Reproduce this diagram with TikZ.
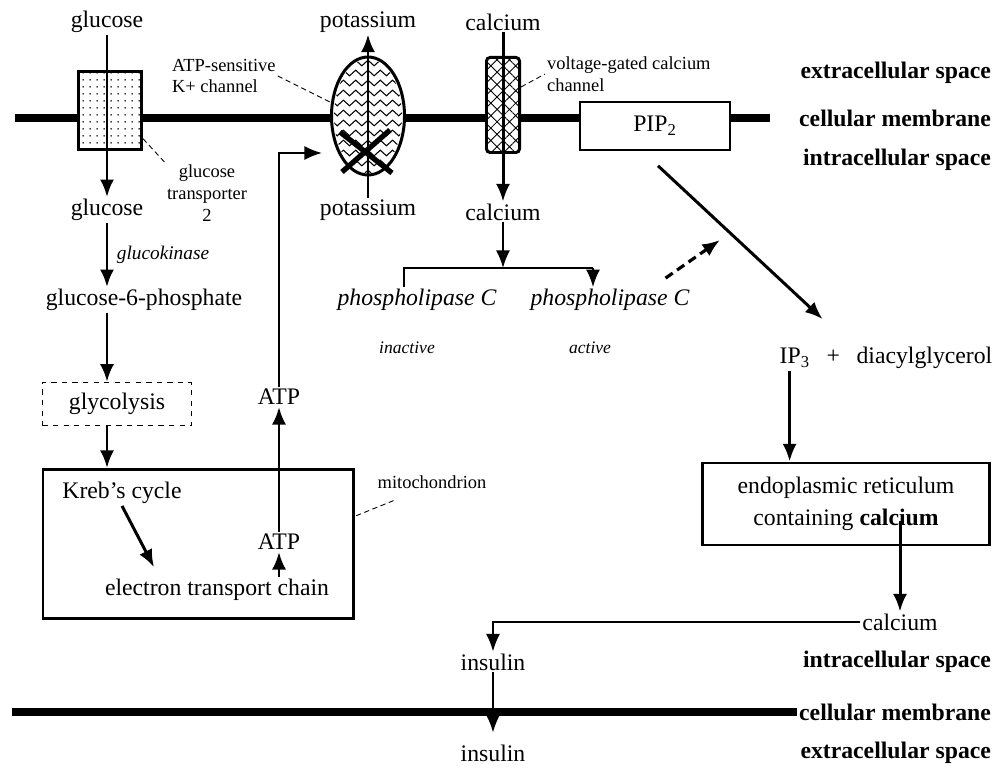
\documentclass[tikz,border=0pt]{standalone}
\usepackage{fontspec}
\setmainfont{Liberation Serif}
\usetikzlibrary{arrows.meta,patterns.meta,decorations.pathmorphing,shapes.geometric}

\tikzset{
  lbl/.style={font=\fontsize{13.5}{16}\selectfont, inner sep=1pt},
  note/.style={font=\fontsize{10.5}{12.5}\selectfont, inner sep=1pt, align=left},
  enz/.style={font=\fontsize{11}{13}\selectfont\itshape, inner sep=1pt},
  state/.style={font=\fontsize{10}{12}\selectfont\itshape, inner sep=1pt},
  plc/.style={font=\fontsize{13.5}{16}\selectfont\itshape, inner sep=1pt},
  side/.style={font=\fontsize{13.5}{16}\selectfont\bfseries, anchor=east, inner sep=1pt},
  arr/.style={line width=1.7pt, -{Latex[length=10pt,width=8pt]}},
  thinarr/.style={line width=1.1pt, -{Latex[length=10pt,width=8pt]}},
  dasharr/.style={line width=1.8pt, dash pattern=on 5pt off 3pt, -{Latex[length=10pt,width=8pt]}},
  bracket/.style={line width=1.1pt},
  membrane/.style={line width=5pt},
  leader/.style={densely dashed, line width=0.5pt},
  cross/.style={line width=3pt},
  wave/.style={decorate, decoration={zigzag, segment length=7pt, amplitude=1.6pt}, line width=0.6pt},
  gtbox/.style={draw, line width=1.7pt, fill=white, minimum width=12.6mm, minimum height=15.6mm,
    postaction={pattern={Dots[distance=4pt,radius=0.5pt]}}},
  kchan/.style={ellipse, draw, line width=1.7pt, fill=white, minimum width=14.6mm,
    minimum height=23.6mm, inner sep=0pt},
  cachan/.style={draw, rounded corners=2pt, line width=1.7pt, fill=white, minimum width=6.6mm,
    minimum height=19mm, inner sep=0pt, postaction={pattern={Hatch[angle=45,distance=5pt,line width=0.5pt]}}},
  pipbox/.style={draw, line width=0.9pt, fill=white, minimum width=30mm, minimum height=9.6mm},
  dbox/.style={draw, dashed, line width=0.8pt, minimum width=29.8mm, minimum height=8.6mm},
  mbox/.style={draw, line width=1.7pt, minimum width=62mm, minimum height=29.8mm},
  ebox/.style={draw, line width=1.7pt, minimum width=57.4mm, minimum height=16.4mm, align=center,
    font=\fontsize{13.5}{18}\selectfont},
}

\begin{document}
\begin{tikzpicture}[x=0.2mm,y=-0.2mm]
\useasboundingbox (0,0) rectangle (1000,768);

% membranes
\draw[membrane] (15,118) -- (770,118);
\node[side] (mem2) at (993,712) {cellular membrane};
\draw[membrane] (12,712) -- (mem2.west);

% channels in the upper membrane
\node[gtbox] (gt) at (110,111) {};
\node[kchan] (kch) at (368,116) {};
\begin{scope}
  \clip (368,116) ellipse [x radius=6.8mm, y radius=11.4mm];
  \foreach \yy in {63,73,...,173}
    \draw[wave] (328,\yy) -- (410,\yy);
\end{scope}
\node[cachan] (cach) at (503,105) {};
\node[pipbox, lbl] (pip) at (655,126) {PIP\textsubscript{2}};

\node[lbl] (glcout) at (107,22) {glucose};
\node[lbl] (glcin) at (107,210) {glucose};
\node[lbl] (kout) at (368,22) {potassium};
\node[lbl] (kin) at (368,210) {potassium};
\node[lbl] (caout) at (503,22) {calcium};
\node[lbl] (cain) at (503,212) {calcium};
\draw[arr] (glcout) -- (glcin);
\draw[arr] (kin) -- (kout);
\draw[arr] (caout) -- (cain);
\draw[cross] (340,132) -- (392,173);
\draw[cross] (390,130) -- (342,172);

\node[note, anchor=west] (katp) at (170,76) {ATP-sensitive\\K+ channel};
\draw[leader] (katp.east) -- (kch.160);
\node[note, align=center] (gtlbl) at (207,193) {glucose\\transporter\\2};
\draw[leader] (gt.-40) -- (gtlbl.north west);
\node[note, anchor=west] (calbl) at (545,74) {voltage-gated calcium\\channel};
\draw[leader] (cach.45) -- (calbl.west);

\node[side] (ext1) at (993,73) {extracellular space};
\node[side] (mem1) at (993,118) {cellular membrane};
\node[side] (int1) at (993,160) {intracellular space};
\node[side] (int2) at (993,662) {intracellular space};
\node[side] (ext2) at (993,753) {extracellular space};

% glucose to ATP
\node[lbl] (g6p) at (144,300) {glucose-6-phosphate};
\node[enz] (gk) at (163,255) {glucokinase};
\draw[arr] (glcin) -- (glcin |- g6p.north);
\node[dbox, lbl] (gly) at (117,404) {glycolysis};
\draw[arr] (glcin |- g6p.south) -- (glcin |- gly.north);
\node[mbox] (mito) at (198,544) {};
\draw[arr] (glcin |- gly.south) -- (glcin |- mito.north);
\node[lbl] (krebs) at (122,493) {Kreb’s cycle};
\node[lbl] (etc) at (217,590) {electron transport chain};
\node[lbl] (atp2) at (279,542) {ATP};
\node[lbl] (atp1) at (279,397) {ATP};
\draw[arr] (krebs.south) -- ([shift={(-63,-10)}]etc.north);
\draw[arr] (etc.north -| atp2) -- (atp2);
\draw[arr] (atp2) -- (atp1);
\coordinate (kx) at (322,153);
\draw[thinarr] (atp1) |- (kx);
\node[note] (mitolbl) at (432,482) {mitochondrion};
\draw[leader] ([shift={(18,10)}]mitolbl.south west) -- (mito.10);

% phospholipase C
\coordinate (brL) at (404,268);
\coordinate (brR) at (593,268);
\draw[thinarr] (cain) -- (cain |- brL);
\node[plc] (plcI) at (417,300) {phospholipase C};
\node[plc] (plcA) at (610,300) {phospholipase C};
\draw[bracket] (brL |- plcI.north) -- (brL) -- (brR);
\draw[thinarr] (brR) -- (brR |- plcA.north);
\node[state] (inact) at (407,348) {inactive};
\node[state] (act) at (590,348) {active};
\coordinate (dashtip) at (720,240);
\draw[dasharr] ([shift={(-26,-9)}]plcA.north east) -- (dashtip);

% IP3 and calcium release
\node[lbl] (ip3) at (886,358) {IP\textsubscript{3}\hspace{0.7em}+\hspace{0.7em}diacylglycerol};
\draw[arr] ([shift={(3,15)}]pip.south) -- ([shift={(45,-26)}]ip3.north west);
\node[ebox] (er) at (846,504) {endoplasmic reticulum\\containing \textbf{calcium}};
\coordinate (ipd) at ([shift={(12,0)}]ip3.south west);
\draw[arr] (ipd) -- (ipd |- er.north);
\node[lbl] (ca2) at (900,622) {calcium};
\coordinate (erout) at ([shift={(0,-25)}]er.south);
\draw[arr] (erout -| ca2) -- (ca2);

% insulin
\node[lbl] (ins1) at (493,662) {insulin};
\node[lbl] (ins2) at (493,753) {insulin};
\draw[thinarr] (ca2.west) -| (ins1);
\draw[thinarr, shorten >=2mm] (ins1) -- (ins2);
\end{tikzpicture}
\end{document}
